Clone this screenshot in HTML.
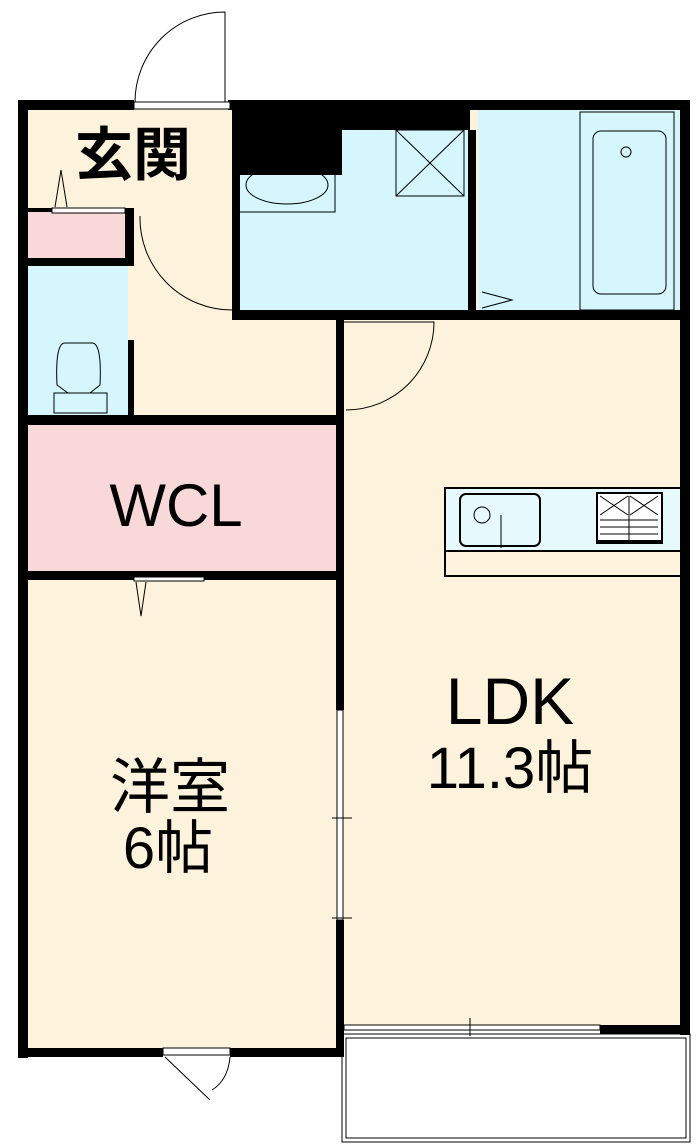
<!DOCTYPE html>
<html><head><meta charset="utf-8"><style>
html,body{margin:0;padding:0;background:#fff}
svg{display:block}
text{font-family:"Liberation Sans","Noto Sans CJK JP",sans-serif;fill:#000}
</style></head><body>
<svg width="700" height="1148" viewBox="0 0 700 1148" xmlns="http://www.w3.org/2000/svg">
<!-- fills -->
<rect x="22" y="102" width="666" height="926" fill="#fdf3dc"/>
<rect x="22" y="580" width="320" height="474" fill="#fdf3dc"/>
<rect x="28" y="212" width="98" height="46" fill="#f8d8d8"/>
<rect x="28" y="265" width="100" height="150" fill="#d4f6fc"/>
<rect x="28" y="425" width="308" height="146" fill="#f8d8d8"/>
<rect x="238" y="130" width="232" height="182" fill="#d4f6fc"/>
<rect x="478" y="110" width="204" height="202" fill="#d4f6fc"/>
<!-- walls -->
<g fill="#000">
<rect x="18" y="100" width="116" height="10"/>
<rect x="228" y="100" width="462" height="10"/>
<rect x="18" y="100" width="10" height="958"/>
<rect x="680" y="100" width="10" height="935"/>
<rect x="232" y="100" width="110" height="75"/>
<rect x="232" y="100" width="238" height="30"/>
<rect x="232" y="100" width="8" height="220"/>
<rect x="468" y="130" width="8" height="190"/>
<rect x="232" y="310" width="458" height="10"/>
<rect x="18" y="258" width="116" height="8"/>
<rect x="125" y="208" width="9" height="58"/>
<rect x="28" y="208" width="24" height="4"/>
<rect x="18" y="415" width="326" height="10"/>
<rect x="128" y="340" width="6" height="80"/>
<rect x="336" y="320" width="8" height="390"/>
<rect x="18" y="571" width="326" height="9"/>
<rect x="336" y="920" width="8" height="136"/>
<rect x="18" y="1048" width="145" height="9"/>
<rect x="230" y="1048" width="114" height="9"/>
<rect x="600" y="1025" width="90" height="9"/>
</g>
<!-- door/window thin lines -->
<g fill="none" stroke="#000" stroke-width="1">
<rect x="134" y="102" width="96" height="7" fill="#fff"/>
<rect x="52" y="208" width="73" height="5" fill="#fff"/>
<path d="M225 102 V12 A90 90 0 0 0 135 102"/>
<path d="M140 216 A92 92 0 0 0 232 310" />
<path d="M346 410 A88 88 0 0 0 434 322 H344"/>
<rect x="337" y="710" width="6" height="210" fill="#fff"/>
<path d="M332 818 H352 M332 918 H352"/>
<rect x="344" y="1025" width="256" height="5" fill="#fff"/>
<path d="M470 1018 V1036"/>
<rect x="163" y="1048" width="67" height="7" fill="#fff"/>
<path d="M165 1057 L210 1100 M230 1057 Q228 1080 212 1090"/>
<rect x="342" y="1034" width="348" height="108"/>
<rect x="346" y="1038" width="340" height="100"/>
<rect x="239" y="160" width="96" height="52"/>
<ellipse cx="287" cy="185" rx="41" ry="19"/>
<rect x="396" y="130" width="68" height="66"/>
<path d="M396 130 L464 196 M464 130 L396 196"/>
<rect x="580" y="112" width="94" height="198"/>
<rect x="593" y="131" width="73" height="163" rx="8"/>
<circle cx="626" cy="152" r="5"/>
<path d="M482 292 L512 300 L482 308"/>
<path d="M55 207 L61 170 L67 207"/>
<path d="M65 343 Q55 343 57 385 L68 393 L90 393 L100 385 Q102 343 92 343 Z"/>
<rect x="54" y="393" width="53" height="20"/>
<rect x="134" y="577" width="70" height="4" fill="#fff"/>
<path d="M136 582 L141 616 L146 582"/>
<rect x="445" y="488" width="236" height="63" fill="#e6fafd" stroke-width="2"/>
<rect x="445" y="551" width="236" height="25" fill="#fdf3dc" stroke-width="2"/>
<rect x="460" y="494" width="80" height="52" rx="6" stroke-width="2"/>
<circle cx="482" cy="515" r="8"/>
<path d="M501 515 V548"/>
<rect x="597" y="493" width="65" height="50" fill="#fff" stroke-width="2"/>
<path d="M600 496 L628 515 M628 496 L600 515 M630 496 L658 515 M658 496 L630 515 M600 520 H658 M600 527 H658 M600 534 H658 M629 496 V543"/>
</g>
<rect x="597" y="540" width="65" height="4" fill="#000"/>
<!-- labels -->
<text x="133" y="175" font-size="58" text-anchor="middle" font-weight="bold">玄関</text>
<text x="176" y="526" font-size="60" text-anchor="middle">WCL</text>
<text x="510" y="724" font-size="66" text-anchor="middle">LDK</text>
<text x="510" y="788" font-size="58" text-anchor="middle">11.3帖</text>
<text x="170" y="808" font-size="60" text-anchor="middle">洋室</text>
<text x="168" y="868" font-size="58" text-anchor="middle">6帖</text>
</svg>
</body></html>
